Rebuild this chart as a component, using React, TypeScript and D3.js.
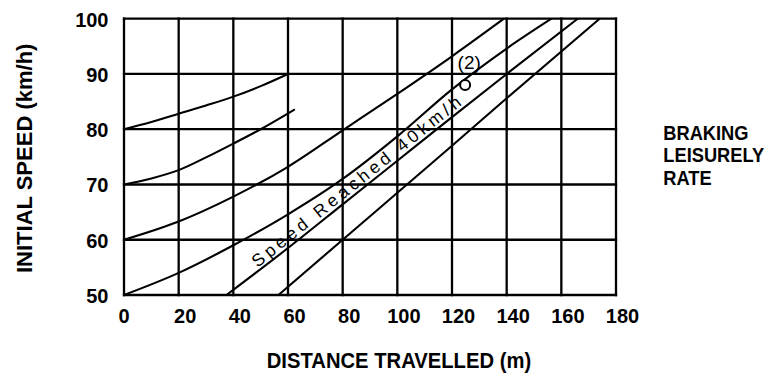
import React from "react";
import * as d3 from "d3";

// ---- data ----
const xTicks = [0, 20, 40, 60, 80, 100, 120, 140, 160, 180];
const yTicks = [50, 60, 70, 80, 90, 100];

// curves: [distance (m), initial speed (km/h)]
const curveFrom80: [number, number][] = [[0, 80], [10, 81.3], [20, 82.8], [30, 84.3], [40, 85.9], [50, 87.8], [60, 90]];
const curveFrom70: [number, number][] = [[0, 70], [10, 71.1], [20, 72.6], [30, 74.9], [40, 77.4], [50, 80], [62.5, 83.6]];
const curveFrom60: [number, number][] = [[0, 60], [20, 63.3], [40, 67.8], [60, 73.2], [80, 79.8], [100, 86.4], [120, 93.2], [139, 100]];
const curveFrom50: [number, number][] = [[0, 50], [20, 54], [40, 59], [60, 64.6], [80, 71], [100, 78.7], [120, 87.2], [140, 94.6], [156.4, 100]];
const line40: [number, number][] = [[37.5, 50], [60, 58.5], [80, 66.4], [100, 74.3], [120, 82.2], [140, 90], [166, 100]];
const line30: [number, number][] = [[56.5, 50], [80, 60], [100, 68.5], [120, 77], [140, 85.6], [174, 100]];
const curves = [curveFrom80, curveFrom70, curveFrom60, curveFrom50, line40, line30];

const labelText = "Speed Reached 40km/h";
const labelAnchor: [number, number] = [86.3, 69.7];
const markerPoint: [number, number] = [124.8, 88];
const markerLabel = "(2)";
const markerLabelPoint: [number, number] = [126.3, 90.9];

const xTitle = "DISTANCE TRAVELLED (m)";
const yTitle = "INITIAL SPEED (km/h)";
const sideTitle = ["BRAKING", "LEISURELY", "RATE"];

const FONT = "'Liberation Sans', Arial, sans-serif";

export default function App() {
  const W = 770, H = 376;
  const x = d3.scaleLinear().domain([0, 180]).range([124, 616]);
  const y = d3.scaleLinear().domain([50, 100]).range([295, 18.7]);
  const line = d3
    .line<[number, number]>()
    .x((d) => x(d[0]))
    .y((d) => y(d[1]))
    .curve(d3.curveMonotoneX);

  const angle = (Math.atan2(y(82.2) - y(66.4), x(120) - x(80)) * 180) / Math.PI;

  return (
    <svg width={W} height={H} style={{ position: "absolute", left: 0, top: 0, background: "#fff" }} fontFamily={FONT}>
      <rect x={0} y={0} width={W} height={H} fill="#fff" />
      {/* grid */}
      <g stroke="#000" strokeWidth={2.3} strokeLinecap="square">
        {xTicks.map((t) => (
          <line key={"gx" + t} x1={x(t)} x2={x(t)} y1={y(50)} y2={y(100)} />
        ))}
        {yTicks.map((t) => (
          <line key={"gy" + t} x1={x(0)} x2={x(180)} y1={y(t)} y2={y(t)} />
        ))}
      </g>
      {/* curves */}
      <g fill="none" stroke="#000" strokeWidth={2.1}>
        {curves.map((c, i) => (
          <path key={i} d={line(c) || ""} />
        ))}
      </g>
      {/* marker */}
      <circle cx={x(markerPoint[0])} cy={y(markerPoint[1])} r={5} fill="#fff" stroke="#000" strokeWidth={2} />
      <text x={x(markerLabelPoint[0])} y={y(markerLabelPoint[1])} fontSize={19} textAnchor="middle" fill="#000">
        {markerLabel}
      </text>
      {/* label along curve */}
      <text
        transform={`translate(${x(labelAnchor[0])},${y(labelAnchor[1])}) rotate(${angle})`}
        fontSize={17.5}
        textAnchor="middle"
        textLength={262}
        lengthAdjust="spacing"
        fill="#000"
      >
        {labelText}
      </text>
      {/* tick labels */}
      <g fontSize={20} fontWeight="bold" fill="#000">
        {yTicks.map((t) => (
          <text key={"ty" + t} x={108.5} y={y(t) + 1} textAnchor="end" dominantBaseline="central">
            {t}
          </text>
        ))}
        {xTicks.map((t) => (
          <text key={"tx" + t} x={x(t) + (t === 0 ? 0 : 6.5)} y={323.3} textAnchor="middle">
            {t}
          </text>
        ))}
      </g>
      {/* axis titles */}
      <g transform="translate(266.7,368.3) scale(0.92,1)">
        <text x={0} y={0} fontSize={22} fontWeight="bold">
          {xTitle}
        </text>
      </g>
      <g transform="translate(31.5,158.3) rotate(-90)">
        <text x={0} y={0} fontSize={22} fontWeight="bold" textAnchor="middle">
          {yTitle}
        </text>
      </g>
      {sideTitle.map((s, i) => (
        <g key={s} transform={`translate(663.3,${139.5 + i * 22.5}) scale(0.87,1)`}>
          <text x={0} y={0} fontSize={21} fontWeight="bold">
            {s}
          </text>
        </g>
      ))}
    </svg>
  );
}
